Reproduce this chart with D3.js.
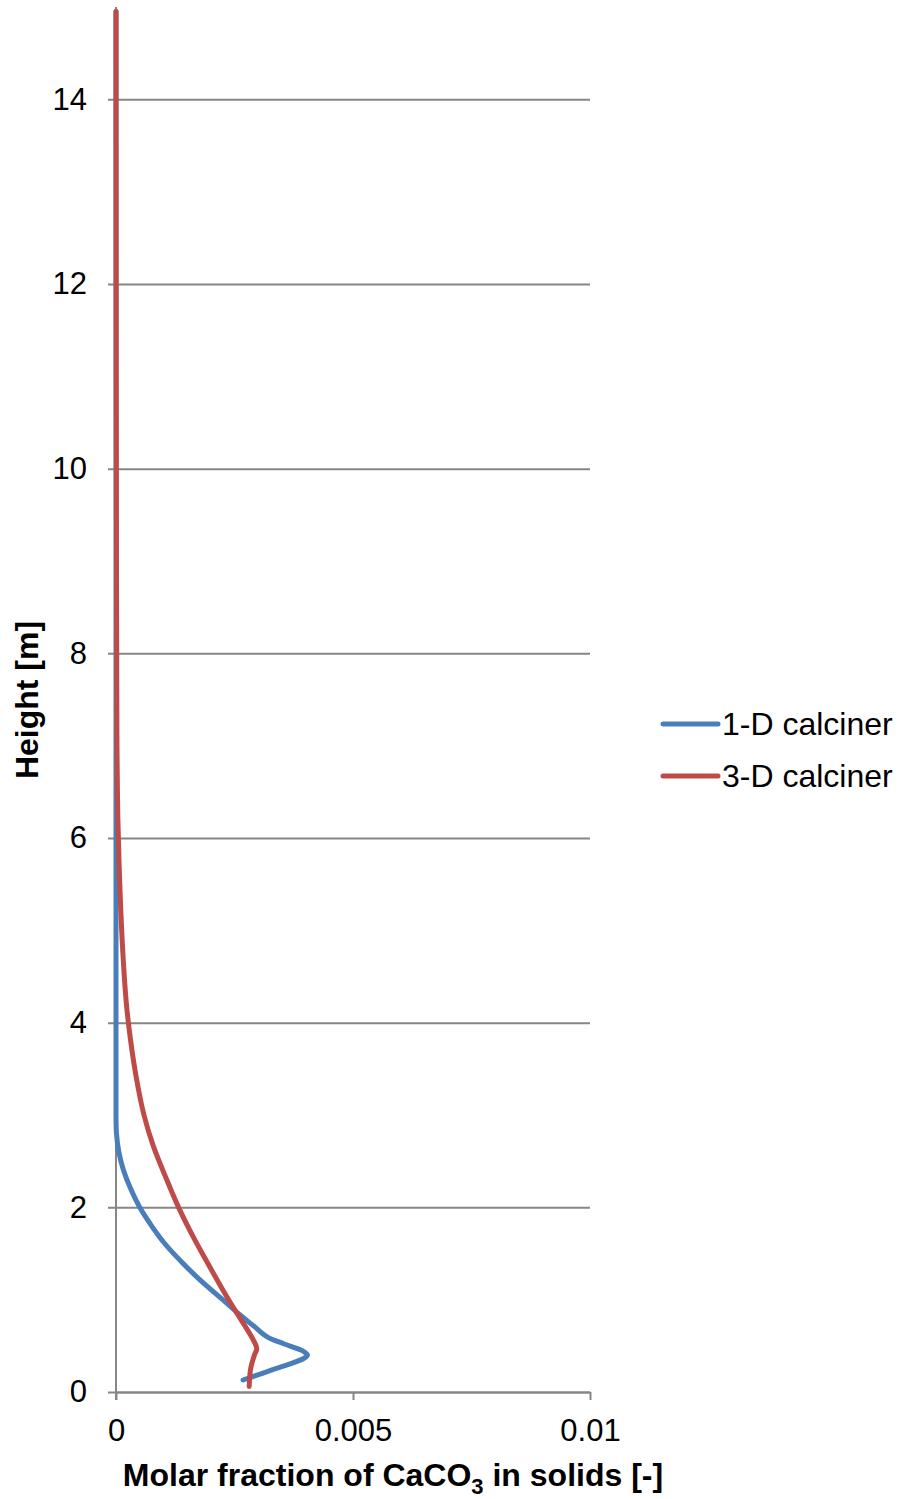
<!DOCTYPE html>
<html>
<head>
<meta charset="utf-8">
<script src="https://cdn.jsdelivr.net/npm/d3@7"></script>
<style>
  html, body { margin: 0; padding: 0; background: #fff; }
  svg { display: block; }
  text { font-family: "Liberation Sans", Arial, sans-serif; fill: #000; }
</style>
</head>
<body>
<svg id="chart" width="898" height="1499"></svg>
<script>
// Height above the distributor [m] and CaCO3 molar fraction in the solids [-]
const height1D = [0.13, 0.25, 0.36, 0.40, 0.45, 0.52, 0.60, 0.70, 0.85, 1.00, 1.20, 1.40, 1.60, 1.80, 2.00, 2.20, 2.40, 2.60, 2.80, 3.00, 4.00, 6.00, 8.00, 10.0, 12.0, 14.0, 14.95];
const frac1D   = [0.00268, 0.00335, 0.00395, 0.00404, 0.00392, 0.00355, 0.00318, 0.00294, 0.00258, 0.00225, 0.00180, 0.00140, 0.00104, 0.00075, 0.00050, 0.00031, 0.00016, 0.00006, 0.00001, 0.0, 0.0, 0.0, 0.0, 0.0, 0.0, 0.0, 0.0];

const height3D = [0.06, 0.25, 0.40, 0.47, 0.56, 0.74, 0.92, 1.10, 1.40, 1.70, 2.00, 2.30, 2.66, 3.00, 3.40, 3.80, 4.20, 4.80, 5.50, 6.20, 7.00, 9.00, 12.0, 14.95];
const frac3D   = [0.00281, 0.00284, 0.00292, 0.00297, 0.00290, 0.00269, 0.00247, 0.00226, 0.00193, 0.00161, 0.00132, 0.00107, 0.00079, 0.00059, 0.00043, 0.00031, 0.00022, 0.00014, 0.00008, 0.00004, 0.00002, 0.00001, 0.000003, 0.0];

const seriesNames = ["1-D calciner", "3-D calciner"];
const seriesColors = ["#4A7EBB", "#BE4B48"];

const xTicks = [0, 0.005, 0.01];
const xTickLabels = ["0", "0.005", "0.01"];
const yTicks = [0, 2, 4, 6, 8, 10, 12, 14];

const svg = d3.select("#chart");
const plot = { left: 116, right: 590, top: 7, bottom: 1392 };

const x = d3.scaleLinear().domain([0, 0.01]).range([plot.left, plot.right]);
const y = d3.scaleLinear().domain([0, 15]).range([plot.bottom, plot.top]);

const gridColor = "#868686";

// Horizontal gridlines with outward ticks on the left
const yAxis = d3.axisLeft(y)
  .tickValues(yTicks)
  .tickSize(-(plot.right - plot.left))
  .tickSizeOuter(0)
  .tickPadding(29)
  .tickFormat(d3.format("d"));

const gy = svg.append("g")
  .attr("transform", `translate(${plot.left},0)`)
  .call(yAxis);
gy.select(".domain").remove();
gy.selectAll(".tick line")
  .attr("x1", -8)
  .attr("stroke", gridColor)
  .attr("stroke-width", 2);
gy.selectAll(".tick text")
  .attr("font-size", 31)
  .attr("font-family", "Liberation Sans, Arial, sans-serif")
  .attr("fill", "#000");

// Vertical axis line
svg.append("line")
  .attr("x1", plot.left).attr("x2", plot.left)
  .attr("y1", plot.top).attr("y2", plot.bottom + 8)
  .attr("stroke", gridColor)
  .attr("stroke-width", 2);

// Bottom axis
const xAxis = d3.axisBottom(x)
  .tickValues(xTicks)
  .tickSize(8)
  .tickSizeOuter(0)
  .tickPadding(19)
  .tickFormat((d, i) => xTickLabels[i]);

const gx = svg.append("g")
  .attr("transform", `translate(0,${plot.bottom})`)
  .call(xAxis);
gx.select(".domain")
  .attr("stroke", gridColor)
  .attr("stroke-width", 2);
gx.selectAll(".tick line")
  .attr("stroke", gridColor)
  .attr("stroke-width", 2);
gx.selectAll(".tick text")
  .attr("font-size", 31)
  .attr("font-family", "Liberation Sans, Arial, sans-serif")
  .attr("fill", "#000");

// Profiles
const line = d3.line()
  .x(d => x(d[0]))
  .y(d => y(d[1]))
  .curve(d3.curveCatmullRom.alpha(0.5));

const series = [
  d3.zip(frac1D, height1D),
  d3.zip(frac3D, height3D)
];

series.forEach((pts, i) => {
  svg.append("path")
    .datum(pts)
    .attr("fill", "none")
    .attr("stroke", seriesColors[i])
    .attr("stroke-width", 5)
    .attr("stroke-linecap", "round")
    .attr("stroke-linejoin", "round")
    .attr("d", line);
});

// Axis titles
const xTitle = svg.append("text")
  .attr("x", (plot.left + plot.right) / 2 + 40)
  .attr("y", 1486)
  .attr("text-anchor", "middle")
  .attr("font-size", 32)
  .attr("font-weight", "bold");
xTitle.append("tspan").text("Molar fraction of CaCO");
xTitle.append("tspan").attr("font-size", 22).attr("dy", 8).text("3");
xTitle.append("tspan").attr("dy", -8).text(" in solids [-]");

svg.append("text")
  .attr("transform", "translate(38,700) rotate(-90)")
  .attr("text-anchor", "middle")
  .attr("font-size", 32)
  .attr("font-weight", "bold")
  .text("Height [m]");

// Legend
const legend = svg.append("g").attr("transform", "translate(663,724)");
seriesNames.forEach((name, i) => {
  const g = legend.append("g").attr("transform", `translate(0,${i * 52})`);
  g.append("line")
    .attr("x1", 0).attr("x2", 55)
    .attr("y1", 0).attr("y2", 0)
    .attr("stroke", seriesColors[i])
    .attr("stroke-width", 5)
    .attr("stroke-linecap", "round");
  g.append("text")
    .attr("x", 59)
    .attr("y", 0)
    .attr("dy", "0.35em")
    .attr("font-size", 32)
    .text(name);
});
</script>
</body>
</html>
